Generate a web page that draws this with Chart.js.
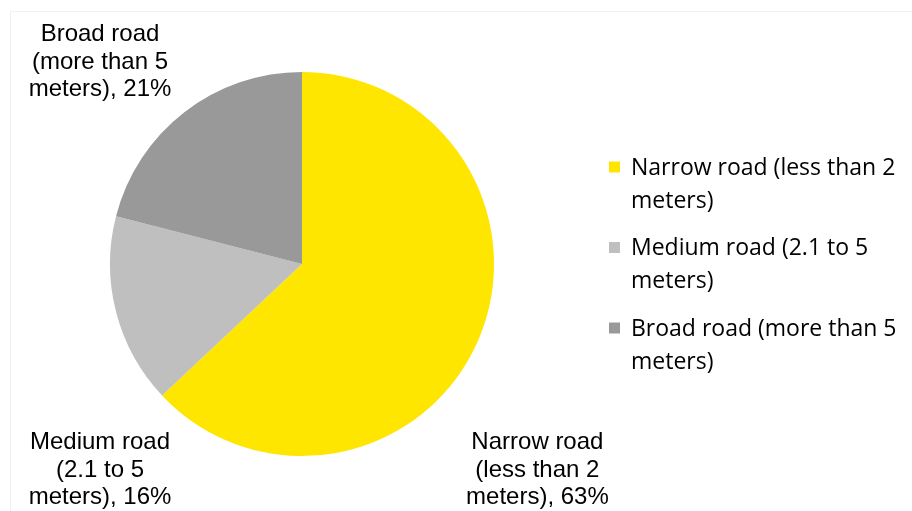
<!DOCTYPE html>
<html>
<head>
<meta charset="utf-8">
<script src="https://cdn.jsdelivr.net/npm/chart.js@4"></script>
<style>
html,body{margin:0;padding:0;background:#fff;overflow:hidden;}
#wrap{position:relative;width:912px;height:511px;}
</style>
</head>
<body>
<div id="wrap"><canvas id="c" width="912" height="511"></canvas></div>
<script>
const categories = ["Narrow road (less than 2 meters)", "Medium road (2.1 to 5 meters)", "Broad road (more than 5 meters)"];
const values = [63, 16, 21];
const colors = ["#FFE600", "#BFBFBF", "#999999"];
const legendLines = [["Narrow road (less than 2", "meters)"], ["Medium road (2.1 to 5", "meters)"], ["Broad road (more than 5", "meters)"]];
const dataLabelLines = [["Narrow road", "(less than 2", "meters), 63%"], ["Medium road", "(2.1 to 5", "meters), 16%"], ["Broad road", "(more than 5", "meters), 21%"]];

// label anchor offsets relative to pie centre, in units of radius
const labelOffsets = [[1.226, 1.073], [-1.052, 1.073], [-1.052, -1.052]];

const framePlugin = {
  id: 'frame',
  beforeDraw(chart) {
    const ctx = chart.ctx;
    ctx.save();
    ctx.fillStyle = '#fff';
    ctx.fillRect(0, 0, chart.width, chart.height);
    ctx.strokeStyle = '#f0f0f0';
    ctx.lineWidth = 1;
    ctx.beginPath();
    ctx.moveTo(10.5, 520);
    ctx.lineTo(10.5, 11.5);
    ctx.lineTo(920, 11.5);
    ctx.stroke();
    ctx.restore();
  }
};

const labelPlugin = {
  id: 'pieLabels',
  afterDraw(chart) {
    const ctx = chart.ctx;
    const meta = chart.getDatasetMeta(0);
    ctx.save();
    // data labels
    ctx.font = '24px "Liberation Sans", Arial, sans-serif';
    ctx.fillStyle = '#000';
    ctx.textAlign = 'center';
    ctx.textBaseline = 'middle';
    meta.data.forEach((arc, i) => {
      const r = arc.outerRadius;
      const cx = arc.x + labelOffsets[i][0] * r;
      const cy = arc.y + labelOffsets[i][1] * r;
      const lines = dataLabelLines[i];
      const lh = 27.5;
      lines.forEach((t, j) => {
        ctx.fillText(t, cx, cy + (j - (lines.length - 1) / 2) * lh);
      });
    });
    // legend
    const lx = 609, ly = 168, itemGap = 80.5, lineGap = 33, box = 11;
    ctx.textAlign = 'left';
    ctx.font = '23px "Open Sans", Lato, sans-serif';
    categories.forEach((c, i) => {
      const y = ly + i * itemGap;
      ctx.fillStyle = chart.data.datasets[0].backgroundColor[i];
      ctx.fillRect(lx, y - 1 - box / 2, box, box);
      ctx.fillStyle = '#000';
      legendLines[i].forEach((t, j) => {
        ctx.fillText(t, lx + 22, y + j * lineGap);
      });
    });
    ctx.restore();
  }
};

new Chart(document.getElementById('c'), {
  type: 'pie',
  data: {
    labels: categories,
    datasets: [{
      data: values,
      backgroundColor: colors,
      borderWidth: 0
    }]
  },
  options: {
    responsive: false,
    animation: false,
    layout: { padding: { left: 110, right: 418, top: 72, bottom: 55 } },
    plugins: {
      legend: { display: false },
      tooltip: { enabled: false },
      title: { display: false }
    }
  },
  plugins: [framePlugin, labelPlugin]
});
</script>
</body>
</html>
